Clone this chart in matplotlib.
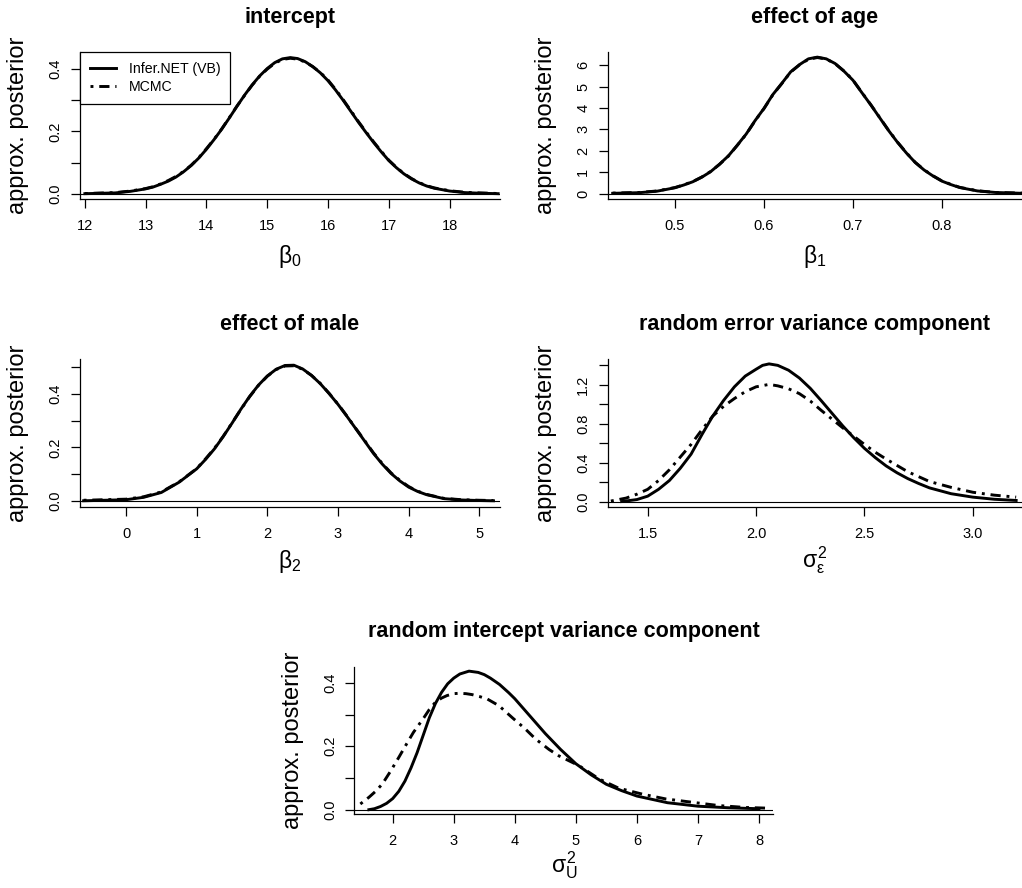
import matplotlib

matplotlib.use("Agg")
import matplotlib.pyplot as plt

plt.rcParams["font.family"] = ["Liberation Sans", "DejaVu Sans"]
plt.rcParams["mathtext.fontset"] = "custom"
plt.rcParams["mathtext.rm"] = "Liberation Sans"
plt.rcParams["mathtext.it"] = "Liberation Sans"

# --- values ---
int_x = [12.0, 12.5, 12.75, 13.0, 13.125, 13.25, 13.375, 13.5, 13.625, 13.75, 13.875, 14.0,
         14.125, 14.25, 14.375, 14.5, 14.625, 14.75, 14.875, 15.0, 15.125, 15.25, 15.38, 15.5,
         15.625, 15.75, 15.875, 16.0, 16.125, 16.25, 16.375, 16.5, 16.625, 16.75, 16.875, 17.0,
         17.125, 17.25, 17.375, 17.5, 17.625, 17.75, 18.0, 18.25, 18.5, 18.8]
int_vb = [0.0005, 0.003, 0.008, 0.016, 0.022, 0.031, 0.041, 0.054, 0.071, 0.091, 0.115, 0.143,
          0.174, 0.207, 0.243, 0.280, 0.316, 0.349, 0.378, 0.402, 0.421, 0.433, 0.437, 0.434,
          0.424, 0.408, 0.388, 0.363, 0.333, 0.300, 0.265, 0.230, 0.197, 0.165, 0.135, 0.107,
          0.084, 0.064, 0.048, 0.035, 0.025, 0.018, 0.009, 0.004, 0.002, 0.0005]
int_mcmc = [0.001, 0.004, 0.009, 0.017, 0.023, 0.032, 0.043, 0.056, 0.072, 0.092, 0.116, 0.145,
            0.175, 0.208, 0.244, 0.281, 0.315, 0.348, 0.377, 0.400, 0.419, 0.431, 0.435, 0.432,
            0.423, 0.408, 0.389, 0.365, 0.335, 0.302, 0.267, 0.232, 0.199, 0.167, 0.137, 0.108,
            0.085, 0.065, 0.049, 0.036, 0.026, 0.019, 0.010, 0.005, 0.003, 0.001]

age_x = [0.43, 0.46, 0.48, 0.50, 0.51, 0.52, 0.53, 0.54, 0.55, 0.56, 0.57, 0.58, 0.59, 0.60,
         0.61, 0.62, 0.63, 0.64, 0.65, 0.66, 0.67, 0.68, 0.69, 0.70, 0.71, 0.72, 0.73, 0.74,
         0.75, 0.76, 0.77, 0.78, 0.79, 0.80, 0.81, 0.82, 0.84, 0.86, 0.89]
age_vb = [0.01, 0.04, 0.11, 0.27, 0.40, 0.55, 0.76, 1.02, 1.37, 1.76, 2.26, 2.78, 3.41, 3.98,
          4.63, 5.15, 5.69, 6.03, 6.30, 6.38, 6.30, 6.08, 5.72, 5.30, 4.72, 4.15, 3.55, 2.95,
          2.40, 1.90, 1.45, 1.10, 0.82, 0.58, 0.42, 0.28, 0.12, 0.05, 0.01]
age_mcmc = [0.02, 0.05, 0.12, 0.28, 0.41, 0.56, 0.77, 1.03, 1.36, 1.75, 2.25, 2.77, 3.40, 3.97,
            4.62, 5.14, 5.68, 6.02, 6.28, 6.36, 6.29, 6.07, 5.73, 5.31, 4.73, 4.16, 3.56, 2.96,
            2.41, 1.91, 1.46, 1.11, 0.83, 0.59, 0.43, 0.29, 0.13, 0.05, 0.02]

male_x = [-0.6, 0.0, 0.25, 0.5, 0.75, 1.0, 1.125, 1.25, 1.375, 1.5, 1.625, 1.75, 1.875, 2.0,
          2.125, 2.25, 2.375, 2.5, 2.625, 2.75, 2.875, 3.0, 3.125, 3.25, 3.375, 3.5, 3.625,
          3.75, 3.875, 4.0, 4.125, 4.25, 4.5, 4.75, 5.0, 5.2]
male_vb = [0.001, 0.005, 0.014, 0.032, 0.070, 0.120, 0.155, 0.194, 0.240, 0.290, 0.342, 0.390,
           0.432, 0.466, 0.491, 0.505, 0.506, 0.492, 0.468, 0.437, 0.400, 0.360, 0.316, 0.270,
           0.224, 0.178, 0.138, 0.103, 0.075, 0.052, 0.036, 0.024, 0.009, 0.004, 0.002, 0.001]
male_mcmc = [0.003, 0.007, 0.016, 0.034, 0.071, 0.121, 0.157, 0.196, 0.241, 0.291, 0.341,
             0.389, 0.431, 0.465, 0.490, 0.503, 0.504, 0.491, 0.468, 0.438, 0.401, 0.361,
             0.317, 0.271, 0.226, 0.180, 0.140, 0.105, 0.077, 0.054, 0.037, 0.025, 0.010,
             0.005, 0.003, 0.002]

err_vb_x = [1.38, 1.45, 1.5, 1.55, 1.6, 1.65, 1.7, 1.75, 1.8, 1.85, 1.9, 1.95, 2.0, 2.03, 2.06,
            2.1, 2.15, 2.2, 2.25, 2.3, 2.35, 2.4, 2.45, 2.5, 2.55, 2.6, 2.65, 2.7, 2.75, 2.8,
            2.9, 3.0, 3.1, 3.2]
err_vb = [0.005, 0.025, 0.06, 0.13, 0.22, 0.345, 0.49, 0.69, 0.88, 1.04, 1.18, 1.29, 1.36, 1.40,
          1.415, 1.40, 1.35, 1.27, 1.165, 1.04, 0.91, 0.78, 0.66, 0.55, 0.455, 0.37, 0.30, 0.24,
          0.19, 0.145, 0.085, 0.05, 0.028, 0.016]
err_mcmc_x = [1.33, 1.4, 1.45, 1.5, 1.55, 1.6, 1.65, 1.7, 1.75, 1.8, 1.85, 1.9, 1.95, 2.0, 2.06,
              2.1, 2.15, 2.2, 2.25, 2.3, 2.35, 2.4, 2.45, 2.5, 2.55, 2.6, 2.7, 2.8, 2.9, 3.0,
              3.1, 3.2]
err_mcmc = [0.01, 0.04, 0.08, 0.13, 0.22, 0.33, 0.46, 0.59, 0.74, 0.88, 0.98, 1.06, 1.13, 1.18,
            1.205, 1.19, 1.16, 1.11, 1.035, 0.94, 0.85, 0.76, 0.675, 0.59, 0.51, 0.44, 0.31,
            0.21, 0.15, 0.10, 0.07, 0.05]

ri_vb_x = [1.61, 1.7, 1.8, 1.9, 2.0, 2.1, 2.2, 2.3, 2.4, 2.5, 2.6, 2.7, 2.8, 2.9, 3.0, 3.1,
           3.25, 3.4, 3.5, 3.6, 3.75, 3.9, 4.0, 4.25, 4.5, 4.75, 5.0, 5.25, 5.5, 5.75, 6.0, 6.5,
           7.0, 7.5, 8.0]
ri_vb = [0.0, 0.003, 0.01, 0.02, 0.035, 0.058, 0.09, 0.132, 0.18, 0.235, 0.29, 0.335, 0.37,
         0.397, 0.415, 0.428, 0.437, 0.433, 0.426, 0.415, 0.395, 0.369, 0.35, 0.295, 0.24, 0.19,
         0.145, 0.11, 0.08, 0.06, 0.043, 0.022, 0.011, 0.006, 0.003]
ri_mcmc_x = [1.47, 1.61, 1.72, 1.83, 1.96, 2.10, 2.22, 2.34, 2.51, 2.60, 2.70, 2.80, 2.89, 3.00,
             3.08, 3.20, 3.30, 3.42, 3.55, 3.74, 3.96, 4.17, 4.34, 4.56, 4.72, 5.05, 5.38,
             5.70, 6.09, 6.47, 6.80, 7.34, 7.78, 8.11]
ri_mcmc = [0.018, 0.039, 0.058, 0.081, 0.12, 0.165, 0.205, 0.244, 0.29, 0.316, 0.339, 0.352,
           0.36, 0.366, 0.367, 0.366, 0.363, 0.357, 0.349, 0.328, 0.29, 0.255, 0.223, 0.19,
           0.17, 0.139, 0.097, 0.068, 0.049, 0.034, 0.026, 0.013, 0.007, 0.005]

W, H = 1022, 888
DASHDOT = (0, (1, 2, 3.5, 2))

# plot regions in pixels: (left, right, top, bottom), limits, ticks
panels = [
    dict(box=(80, 500, 52, 199.3), xlim=(11.92, 18.83), ylim=(-0.0175, 0.455),
         xticks=[12, 13, 14, 15, 16, 17, 18], xlabels=["12", "13", "14", "15", "16", "17", "18"],
         yticks=[0, 0.1, 0.2, 0.3, 0.4], ylabels=["0.0", "", "0.2", "", "0.4"],
         title="intercept", xlab=r"$\beta_0$", xoff=57.5,
         vb=(int_x, int_vb), mcmc=(int_x, int_mcmc)),
    dict(box=(607.7, 1022, 52, 199.3), xlim=(0.4244, 0.89), ylim=(-0.27, 6.62),
         xticks=[0.5, 0.6, 0.7, 0.8], xlabels=["0.5", "0.6", "0.7", "0.8"],
         yticks=[0, 1, 2, 3, 4, 5, 6], ylabels=["0", "1", "2", "3", "4", "5", "6"],
         title="effect of age", xlab=r"$\beta_1$", xoff=57.5,
         vb=(age_x, age_vb), mcmc=(age_x, age_mcmc)),
    dict(box=(80, 500, 359.3, 506.7), xlim=(-0.651, 5.292), ylim=(-0.021, 0.528),
         xticks=[0, 1, 2, 3, 4, 5], xlabels=["0", "1", "2", "3", "4", "5"],
         yticks=[0, 0.1, 0.2, 0.3, 0.4, 0.5], ylabels=["0.0", "", "0.2", "", "0.4", ""],
         title="effect of male", xlab=r"$\beta_2$", xoff=55,
         vb=(male_x, male_vb), mcmc=(male_x, male_mcmc)),
    dict(box=(607.7, 1022, 359.3, 506.7), xlim=(1.3154, 3.227), ylim=(-0.048, 1.462),
         xticks=[1.5, 2.0, 2.5, 3.0], xlabels=["1.5", "2.0", "2.5", "3.0"],
         yticks=[0, 0.2, 0.4, 0.6, 0.8, 1.0, 1.2, 1.4],
         ylabels=["0.0", "", "0.4", "", "0.8", "", "1.2", ""],
         title="random error variance component", xlab=r"$\sigma^2_\varepsilon$", xoff=53,
         vb=(err_vb_x, err_vb), mcmc=(err_mcmc_x, err_mcmc)),
    dict(box=(354.3, 773.3, 666.7, 814), xlim=(1.371, 8.234), ylim=(-0.0136, 0.451),
         xticks=[2, 3, 4, 5, 6, 7, 8], xlabels=["2", "3", "4", "5", "6", "7", "8"],
         yticks=[0, 0.1, 0.2, 0.3, 0.4], ylabels=["0.0", "", "0.2", "", "0.4"],
         title="random intercept variance component", xlab=r"$\sigma^2_\mathrm{U}$", xoff=51,
         vb=(ri_vb_x, ri_vb), mcmc=(ri_mcmc_x, ri_mcmc)),
]

fig = plt.figure(figsize=(W / 100, H / 100), dpi=100)

for i, p in enumerate(panels):
    l, r, t, b = p["box"]
    ax = fig.add_axes([l / W, 1 - b / H, (r - l) / W, (b - t) / H])
    hpx = b - t
    ax.plot(*p["vb"], color="black", lw=2.1, label="Infer.NET (VB)")
    ax.plot(*p["mcmc"], color="black", lw=2.1, ls=DASHDOT, label="MCMC")
    ax.axhline(0, color="black", lw=0.8)
    ax.set_xlim(*p["xlim"])
    ax.set_ylim(*p["ylim"])
    ax.set_xticks(p["xticks"])
    ax.set_xticklabels(p["xlabels"])
    ax.set_yticks(p["yticks"])
    ax.set_yticklabels(p["ylabels"], rotation=90, va="center")
    for s in ("top", "right"):
        ax.spines[s].set_visible(False)
    for s in ("left", "bottom"):
        ax.spines[s].set_linewidth(0.9)
    ax.tick_params(length=6.5, width=0.9, labelsize=10.5, pad=8)
    ax.tick_params(axis="y", pad=6)
    ax.text(0.5, 1 + 35 / hpx, p["title"], transform=ax.transAxes, ha="center", va="center",
            fontsize=15.5, fontweight="bold")
    ax.text(0.5, -p["xoff"] / hpx, p["xlab"], transform=ax.transAxes, ha="center",
            va="center", fontsize=16.5)
    ax.text(-61.5 / (r - l), 0.5, "approx. posterior", transform=ax.transAxes, rotation=90,
            ha="center", va="center", fontsize=17)
    if i == 0:
        leg = ax.legend(loc="upper left", bbox_to_anchor=(0, 1), borderaxespad=0,
                        fancybox=False, framealpha=1, edgecolor="black", fontsize=10.2,
                        handlelength=1.85, handletextpad=0.9, borderpad=0.7, labelspacing=0.3)
        leg.get_frame().set_linewidth(0.9)

fig.savefig("out.png", dpi=100)
